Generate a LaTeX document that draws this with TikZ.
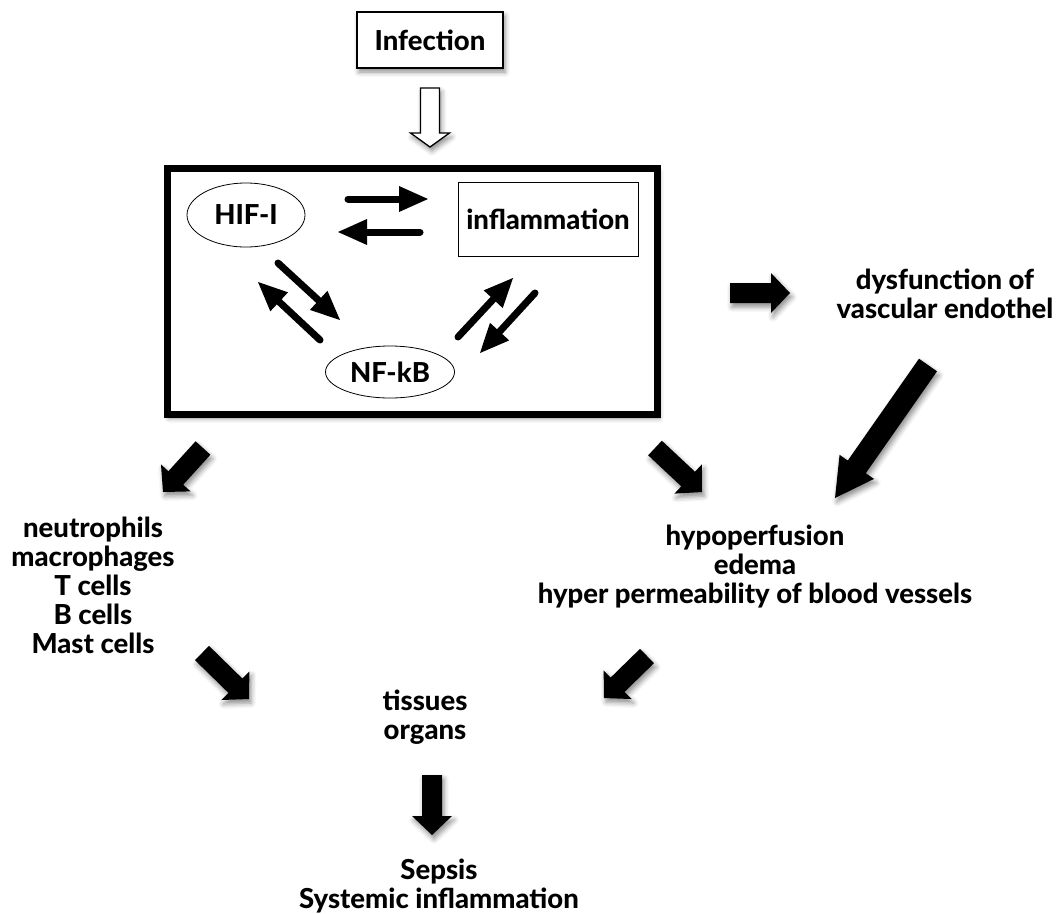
\documentclass[tikz,border=0pt]{standalone}
\usepackage{fontspec}
\setmainfont{Lato}[BoldFont={Lato Heavy}]
\usetikzlibrary{shapes.geometric,shadows.blur,calc}

\tikzset{
  lbl/.style={font=\bfseries\fontsize{27.5}{29}\selectfont, align=center, inner sep=0pt},
  boxshadow/.style={blur shadow={shadow xshift=2pt, shadow yshift=-4pt, shadow blur radius=5pt, shadow opacity=45}}
}
% fat arrow: start, end, half shaft, half head, head length
\newcommand\fatarrow[5]{%
  \coordinate (fah) at ($(#2)!#5!(#1)$);
  \fill[boxshadow] ($(#1)!#3!90:(#2)$) -- ($(fah)!#3!-90:(#1)$) -- ($(fah)!#4!-90:(#1)$) -- (#2)
      -- ($(fah)!#4!90:(#1)$) -- ($(fah)!#3!90:(#1)$) -- ($(#1)!#3!-90:(#2)$) -- cycle;}
% thin arrow with a round tail
\newcommand\thinarrow[2]{%
  \coordinate (tah) at ($(#2)!29pt!(#1)$);
  \draw[line width=7pt, line cap=round] (#1) -- (tah);
  \fill ($(tah)!13pt!90:(#2)$) -- (#2) -- ($(tah)!13pt!-90:(#2)$) -- cycle;}

\begin{document}
\begin{tikzpicture}[x=1pt, y=-1pt]
    \useasboundingbox (0,0) rectangle (1062,913);

    % top
    \node(inf) [draw, fill=white, line width=1.5pt, minimum width=146pt, minimum height=56pt, boxshadow, lbl] at (430,40) {Infection};
    \coordinate (hs) at (430,88);
    \draw[fill=white, line width=1.3pt, boxshadow] (hs) ++(-9.5,0) -- ++(19,0) -- ++(0,45) -- ++(10,0) -- ++(-19.5,14) -- ++(-19.5,-14) -- ++(10,0) -- cycle;

    % main box
    \node(box) [draw, fill=white, line width=7pt, minimum width=490pt, minimum height=246pt, boxshadow] at (412,291) {};
    \node(hif) [ellipse, draw, line width=0.8pt, minimum width=118pt, minimum height=64pt, lbl] at (246,215) {HIF-I};
    \node(infl) [draw, line width=1pt, minimum width=180pt, minimum height=74pt, lbl] at (548,219) {inflammation};
    \node(nfkb) [ellipse, draw, line width=0.8pt, minimum width=129pt, minimum height=52pt, lbl] at (390,372) {NF-kB};

    \coordinate (t1s) at (348,199); \coordinate (t1e) at (428,199);
    \coordinate (t2s) at (420,232); \coordinate (t2e) at (338,232);
    \coordinate (t3s) at (278,263); \coordinate (t3e) at (340,320);
    \coordinate (t4s) at (320,340); \coordinate (t4e) at (258,282);
    \coordinate (t5s) at (458,337); \coordinate (t5e) at (513,278);
    \coordinate (t6s) at (535,293); \coordinate (t6e) at (480,353);
    \foreach \i in {1,...,6}
        {\thinarrow{t\i s}{t\i e}}

    % outcomes
    \node(vasc) [lbl] at (945,294) {dysfunction of\\vascular endothel};
    \node(cells) [lbl] at (93,585) {neutrophils\\macrophages\\T cells\\B cells\\Mast cells};
    \node(perf) [lbl] at (755,567) {hypoperfusion\\edema\\hyper permeability of blood vessels};
    \node(tiss) [lbl] at (425,717) {tissues\\organs};
    \node(seps) [lbl] at (439,886) {Sepsis\\Systemic inflammation};

    \coordinate (b1s) at (730,293); \coordinate (b1e) at (790,293);
    \coordinate (b2s) at (203,448); \coordinate (b2e) at (163,492);
    \coordinate (b3s) at (655,448); \coordinate (b3e) at (702,492);
    \coordinate (b4s) at (202,653); \coordinate (b4e) at (249,699);
    \coordinate (b5s) at (647,656); \coordinate (b5e) at (604,698);
    \coordinate (b6s) at (432,775); \coordinate (b6e) at (432,835);
    \coordinate (b7s) at (928,365); \coordinate (b7e) at (835,498);
    \foreach \i in {1,...,6}
        {\fatarrow{b\i s}{b\i e}{10pt}{20pt}{19pt}}
    \fatarrow{b7s}{b7e}{11pt}{21pt}{38pt}
\end{tikzpicture}
\end{document}
